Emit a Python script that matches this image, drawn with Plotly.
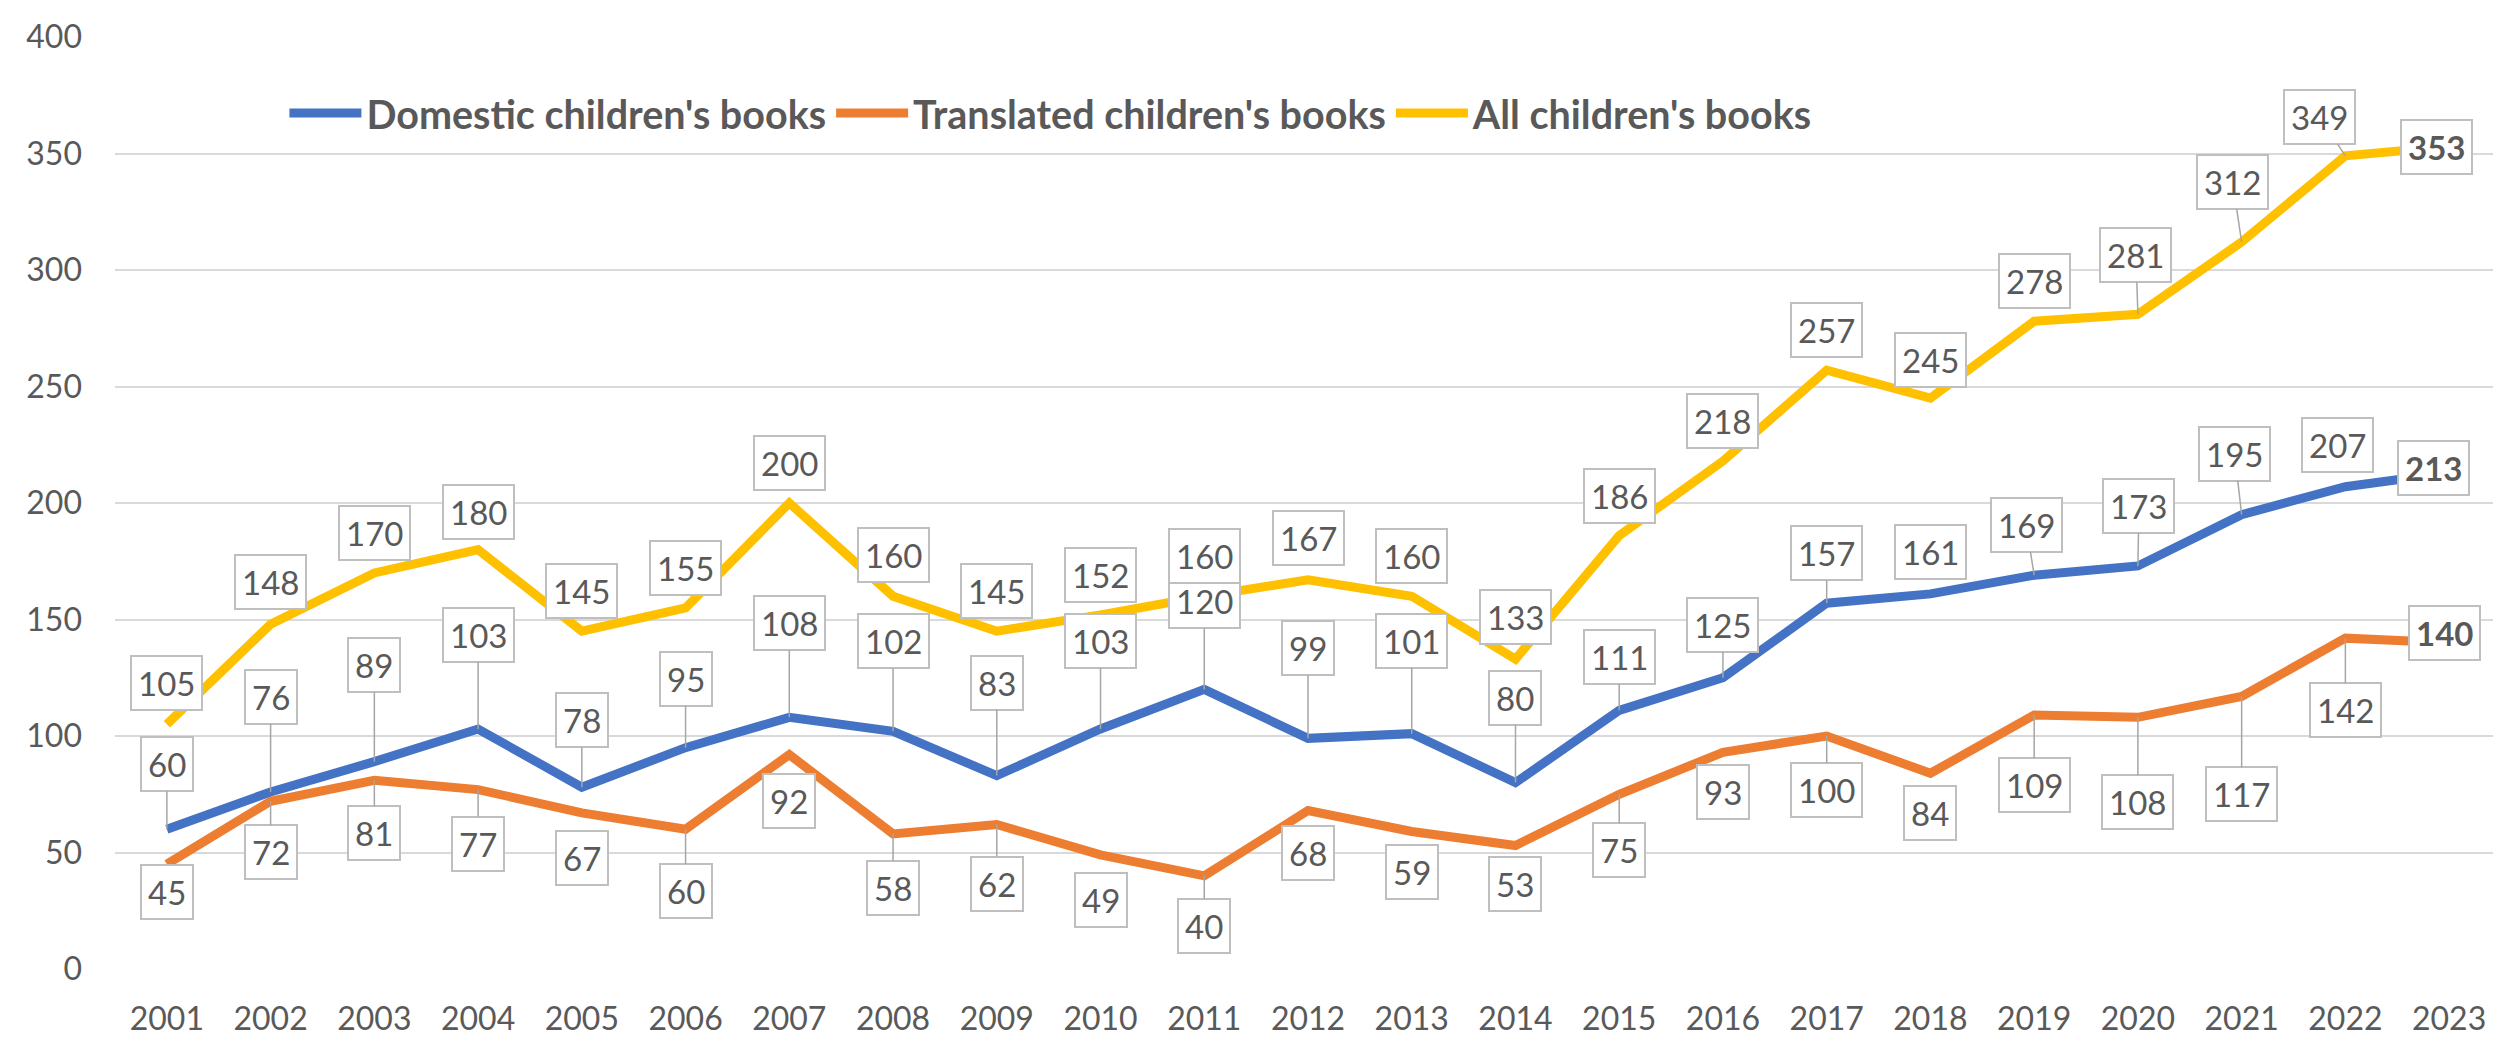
import plotly.graph_objects as go

# ---- data ----
years = ["2001", "2002", "2003", "2004", "2005", "2006", "2007", "2008", "2009", "2010",
         "2011", "2012", "2013", "2014", "2015", "2016", "2017", "2018", "2019", "2020",
         "2021", "2022", "2023"]
domestic = [60, 76, 89, 103, 78, 95, 108, 102, 83, 103, 120, 99, 101, 80, 111, 125,
            157, 161, 169, 173, 195, 207, 213]
translated = [45, 72, 81, 77, 67, 60, 92, 58, 62, 49, 40, 68, 59, 53, 75, 93,
              100, 84, 109, 108, 117, 142, 140]
all_books = [105, 148, 170, 180, 145, 155, 200, 160, 145, 152, 160, 167, 160, 133, 186, 218,
             257, 245, 278, 281, 312, 349, 353]
y_ticks = [0, 50, 100, 150, 200, 250, 300, 350, 400]

series_names = ["Domestic children's books", "Translated children's books", "All children's books"]
series_colors = ["#4472C4", "#ED7D31", "#FFC000"]

# ---- label placement (pixel offsets of label box centre from the point; +dy = down) ----
dom_off = [(0, -65), (0, -95), (0, -97), (0, -94), (0, -67), (0, -69), (0, -94), (0, -90),
           (0, -93), (0, -88), (0, -88), (0, -90), (0, -93), (0, -85), (0, -53), (0, -53),
           (0, -50), (0, -42), (-8, -50), (1, -60), (-7, -61), (-8, -42), (-16, -5)]
trans_off = [(0, 28), (0, 51), (0, 53), (0, 54), (0, 45), (0, 62), (0, 46), (0, 54),
             (0, 59), (0, 45), (0, 50), (0, 42), (0, 40), (0, 38), (0, 56), (0, 40),
             (0, 54), (0, 40), (0, 70), (0, 85), (0, 98), (0, 72), (-5, -10)]
all_off = [(0, -41), (0, -42), (0, -40), (0, -38), (0, -40), (0, -40), (0, -40), (0, -41),
           (0, -40), (0, -40), (0, -40), (0, -42), (0, -40), (0, -42), (0, -40), (0, -40),
           (0, -40), (0, -38), (0, -40), (-2, -59), (-9, -60), (-26, -39), (-13, 0)]

FONT = "Lato"
TXT = "#595959"

fig = go.Figure()
all_series = [domestic, translated, all_books]
for name, vals, col in zip(series_names, all_series, series_colors):
    fig.add_trace(go.Scatter(x=years, y=vals, mode="lines", name=name,
                             line=dict(color=col, width=9)))

annotations = []
for vals, offs in zip(all_series, [dom_off, trans_off, all_off]):
    for i, v in enumerate(vals):
        dx, dy = offs[i]
        last = (i == len(years) - 1)
        text = f"<b>{v}</b>" if last else str(v)
        # category axis: position by category index
        common = dict(x=i, y=v, xref="x", yref="y", text=text,
                      font=dict(family=FONT, size=33, color=TXT),
                      bgcolor="white", bordercolor="#BFBFBF", borderwidth=2,
                      borderpad=6)
        if abs(dy) >= 48 or abs(dx) >= 20:
            annotations.append(dict(**common, showarrow=True, arrowhead=0,
                                    arrowwidth=1.5, arrowcolor="#A6A6A6",
                                    ax=dx, ay=dy, standoff=0))
        else:
            annotations.append(dict(**common, showarrow=False,
                                    xanchor="center", yanchor="middle",
                                    xshift=dx, yshift=-dy))

fig.update_layout(
    width=2501, height=1037,
    margin=dict(l=107, r=8, t=21, b=65),
    paper_bgcolor="white", plot_bgcolor="white",
    font=dict(family=FONT, color=TXT, size=32),
    annotations=annotations,
    showlegend=True,
    legend=dict(orientation="h", x=0.071, y=0.918, xanchor="left", yanchor="middle",
                font=dict(family=FONT, size=39.5, color=TXT, weight="bold"),
                bgcolor="rgba(0,0,0,0)", itemwidth=72),
    xaxis=dict(type="category", range=[-0.5, 22.5], showgrid=False, zeroline=False,
               showline=False, ticks="", tickfont=dict(family=FONT, size=32, color=TXT),
               ticklabelstandoff=28),
    yaxis=dict(range=[0, 400], tickvals=y_ticks, showgrid=True, gridcolor="#D9D9D9",
               gridwidth=2, zeroline=False, showline=False, ticks="",
               tickfont=dict(family=FONT, size=32, color=TXT), ticklabelstandoff=32),
)

fig.write_html("out.html")
